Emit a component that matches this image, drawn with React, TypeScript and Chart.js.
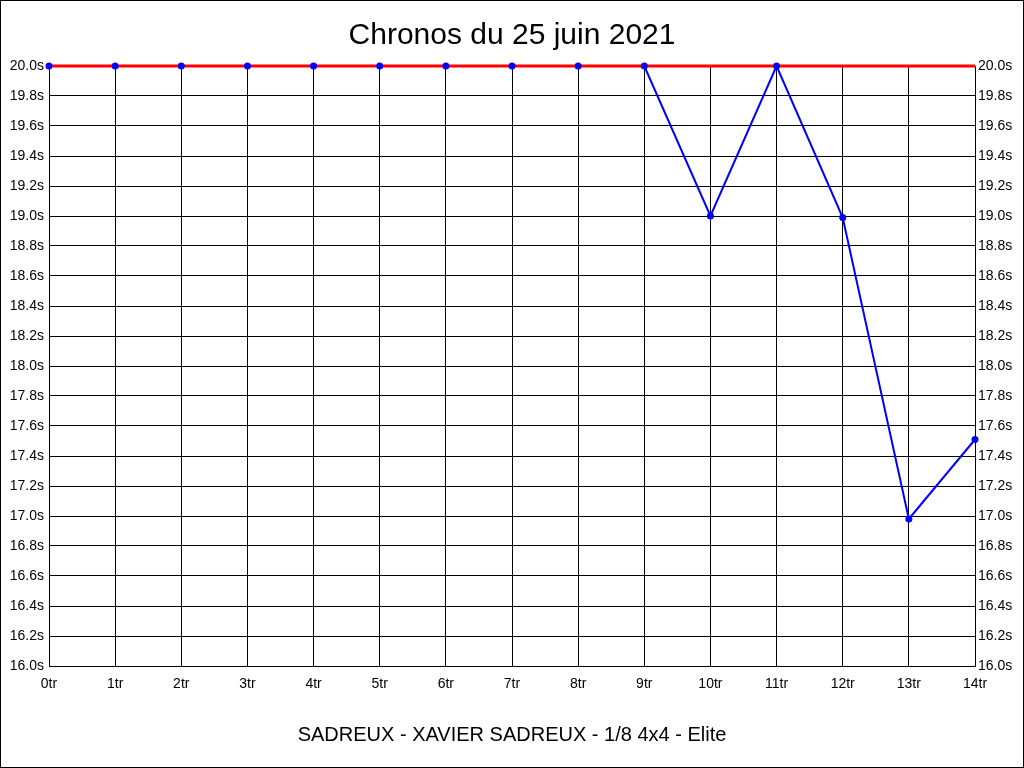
import React, { useEffect, useRef } from "react";
import { Chart, registerables } from "chart.js";

Chart.register(...registerables);

const categories = ["0tr", "1tr", "2tr", "3tr", "4tr", "5tr", "6tr", "7tr", "8tr", "9tr", "10tr", "11tr", "12tr", "13tr", "14tr"];
const chronos = [20.0, 20.0, 20.0, 20.0, 20.0, 20.0, 20.0, 20.0, 20.0, 20.0, 19.0, 20.0, 18.99, 16.98, 17.51];
const reference = [20.0, 20.0, 20.0, 20.0, 20.0, 20.0, 20.0, 20.0, 20.0, 20.0, 20.0, 20.0, 20.0, 20.0, 20.0];
const yMin = 16.0;
const yMax = 20.0;
const yStep = 0.2;
const titleText = "Chronos du 25 juin 2021";
const subtitleText = "SADREUX - XAVIER SADREUX - 1/8 4x4 - Elite";

const FONT = "'Liberation Sans', Arial, sans-serif";

const frame = {
  id: "frame",
  beforeDraw(chart: any) {
    const ctx = chart.ctx;
    ctx.save();
    ctx.fillStyle = "#ffffff";
    ctx.fillRect(0, 0, chart.width, chart.height);
    ctx.restore();
  },
  afterDraw(chart: any) {
    const ctx = chart.ctx;
    ctx.save();
    ctx.strokeStyle = "#000000";
    ctx.lineWidth = 1;
    ctx.strokeRect(0.5, 0.5, chart.width - 1, chart.height - 1);
    ctx.restore();
  },
};

export default function App() {
  const ref = useRef<HTMLCanvasElement>(null);

  useEffect(() => {
    document.body.style.margin = "0";
    const tickFont = { family: FONT, size: 14 };
    const yTicks = {
      stepSize: yStep,
      color: "#000",
      font: tickFont,
      padding: 5,
      callback: (v: any) => Number(v).toFixed(1) + "s",
    };
    const chart = new Chart(ref.current as HTMLCanvasElement, {
      type: "line",
      data: {
        labels: categories,
        datasets: [
          {
            label: "Chronos points",
            data: chronos,
            showLine: false,
            borderColor: "#0000ff",
            backgroundColor: "#0000ff",
            pointRadius: 3.5,
            pointBorderWidth: 0,
            pointBackgroundColor: "#0000ff",
            yAxisID: "y",
            clip: false,
            order: 0,
          },
          {
            label: "Référence",
            data: reference,
            borderColor: "#ff0000",
            backgroundColor: "#ff0000",
            borderWidth: 3,
            pointRadius: 0,
            tension: 0,
            yAxisID: "y",
            clip: false,
            order: 1,
          },
          {
            label: "Chronos",
            data: chronos,
            borderColor: "#0000ff",
            backgroundColor: "#0000ff",
            borderWidth: 2,
            pointRadius: 0,
            tension: 0,
            yAxisID: "y",
            clip: false,
            order: 2,
          },
        ],
      },
      options: {
        responsive: false,
        animation: false,
        devicePixelRatio: 1,
        layout: { padding: 0 },
        plugins: {
          legend: { display: false },
          tooltip: { enabled: false },
          title: {
            display: true,
            text: titleText,
            color: "#000",
            font: { family: FONT, size: 30, weight: "normal", lineHeight: 1.2 },
            padding: { top: 17.5, bottom: 12.5 },
          },
          subtitle: {
            display: true,
            position: "bottom",
            text: subtitleText,
            color: "#000",
            font: { family: FONT, size: 20, weight: "normal", lineHeight: 1.2 },
            padding: { top: 27.5, bottom: 20.5 },
          },
        },
        scales: {
          x: {
            type: "category",
            grid: { color: "#000", lineWidth: 1, drawTicks: false },
            border: { color: "#000" },
            ticks: { color: "#000", font: tickFont, padding: 10, maxRotation: 0, autoSkip: false },
            afterFit: (s: any) => {
              s.height = 30;
            },
          },
          y: {
            position: "left",
            min: yMin,
            max: yMax,
            grid: { color: "#000", lineWidth: 1, drawTicks: false },
            border: { color: "#000" },
            ticks: yTicks,
            afterFit: (s: any) => {
              s.width = 49;
            },
          },
          y2: {
            position: "right",
            min: yMin,
            max: yMax,
            grid: { display: false, drawTicks: false },
            border: { color: "#000" },
            ticks: { ...yTicks, padding: 3 },
            afterFit: (s: any) => {
              s.width = 49;
            },
          },
        },
      } as any,
      plugins: [frame],
    });
    return () => chart.destroy();
  }, []);

  return (
    <div style={{ position: "absolute", left: 0, top: 0, width: 1024, height: 768 }}>
      <canvas ref={ref} width={1024} height={768} />
    </div>
  );
}
